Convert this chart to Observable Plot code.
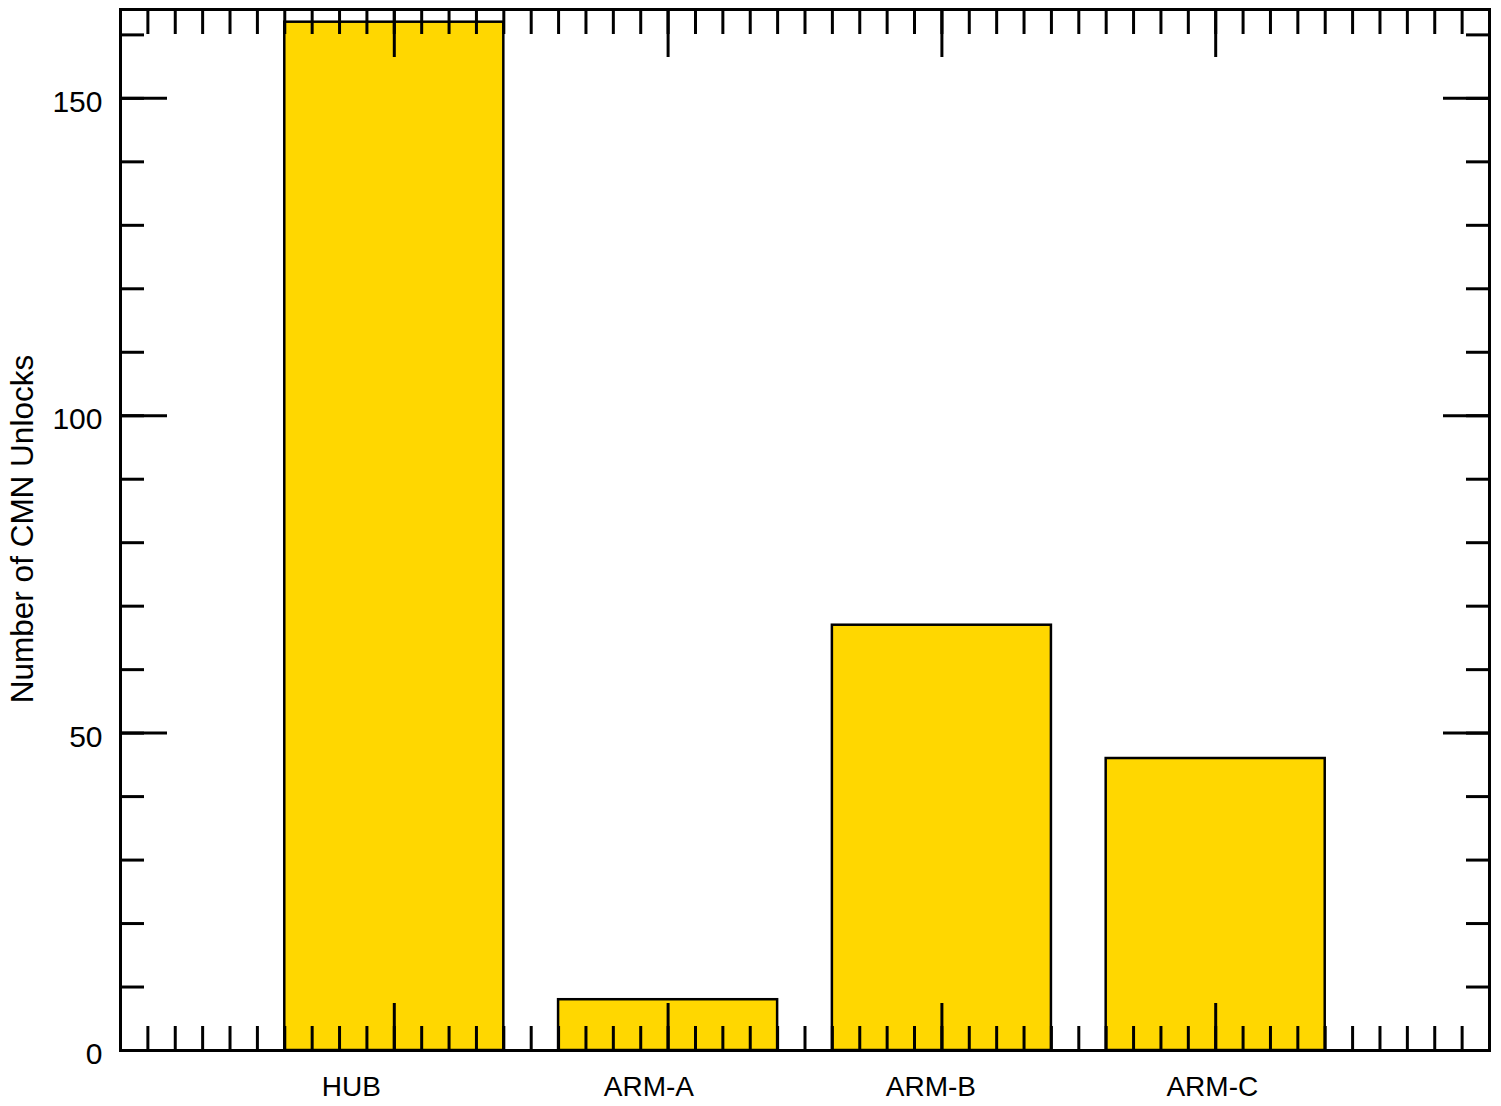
<!DOCTYPE html>
<html><head><meta charset="utf-8">
<script src="https://cdn.jsdelivr.net/npm/d3@7"></script>
<script src="https://cdn.jsdelivr.net/npm/@observablehq/plot@0.6"></script>
<style>body{margin:0;background:#fff} svg{display:block}</style>
</head><body><div id="chart"></div>
<script>
const categories = ["HUB", "ARM-A", "ARM-B", "ARM-C"];
const unlocks = [162, 8, 67, 46];
const yMajorTicks = [0, 50, 100, 150];
const yMinorTicks = d3.range(0, 161, 10);
const xMajorTicks = [1, 2, 3, 4];
const xMinorTicks = d3.range(0, 51).map(i => i / 10);
const labelStart = [0.735, 1.765, 2.795, 3.82];
const yTitle = "Number of CMN Unlocks";

const bars = categories.map((c, i) => ({category: c, pos: i + 1, value: unlocks[i]}));
const labels = categories.map((c, i) => ({category: c, x: labelStart[i]}));

const BW = 0.8;
const tickStyle = {stroke: "black", strokeWidth: 3, fill: "none", label: null};

const chart = Plot.plot({
  width: 1501,
  height: 1106,
  marginLeft: 120,
  marginRight: 12,
  marginTop: 9,
  marginBottom: 56,
  x: {type: "linear", domain: [0, 5], axis: null},
  y: {type: "linear", domain: [0, 164], axis: null},
  style: {fontFamily: "'Liberation Sans', Arial, sans-serif", fontSize: "28px", color: "black", background: "white"},
  marks: [
    Plot.rectY(bars, {x1: d => d.pos - BW / 2, x2: d => d.pos + BW / 2, y1: 0, y2: "value", fill: "#FFD700", stroke: "black", strokeWidth: 2.5}),
    Plot.frame({stroke: "black", strokeWidth: 3}),
    Plot.axisX(xMinorTicks, {anchor: "bottom", tickSize: -24, ...tickStyle}),
    Plot.axisX(xMajorTicks, {anchor: "bottom", tickSize: -47, ...tickStyle}),
    Plot.axisX(xMinorTicks, {anchor: "top", tickSize: -24, ...tickStyle}),
    Plot.axisX(xMajorTicks, {anchor: "top", tickSize: -47, ...tickStyle}),
    Plot.axisY(yMinorTicks, {anchor: "left", tickSize: -24, ...tickStyle}),
    Plot.axisY(yMajorTicks, {anchor: "left", tickSize: -47, ...tickStyle}),
    Plot.axisY(yMinorTicks, {anchor: "right", tickSize: -24, ...tickStyle}),
    Plot.axisY(yMajorTicks, {anchor: "right", tickSize: -47, ...tickStyle}),
    Plot.text(yMajorTicks, {y: d => d, text: d => String(d), frameAnchor: "left", textAnchor: "end", dx: -18, dy: 4, fill: "black", fontSize: 30}),
    Plot.text(labels, {x: "x", y: () => 0, text: "category", textAnchor: "start", lineAnchor: "middle", dy: 37, fill: "black", fontSize: 28}),
    Plot.text([yTitle], {text: d => d, frameAnchor: "left", rotate: -90, textAnchor: "middle", lineAnchor: "middle", dx: -98, dy: -1, fill: "black", fontSize: 31.5})
  ]
});
document.getElementById("chart").appendChild(chart);
</script>
</body></html>
